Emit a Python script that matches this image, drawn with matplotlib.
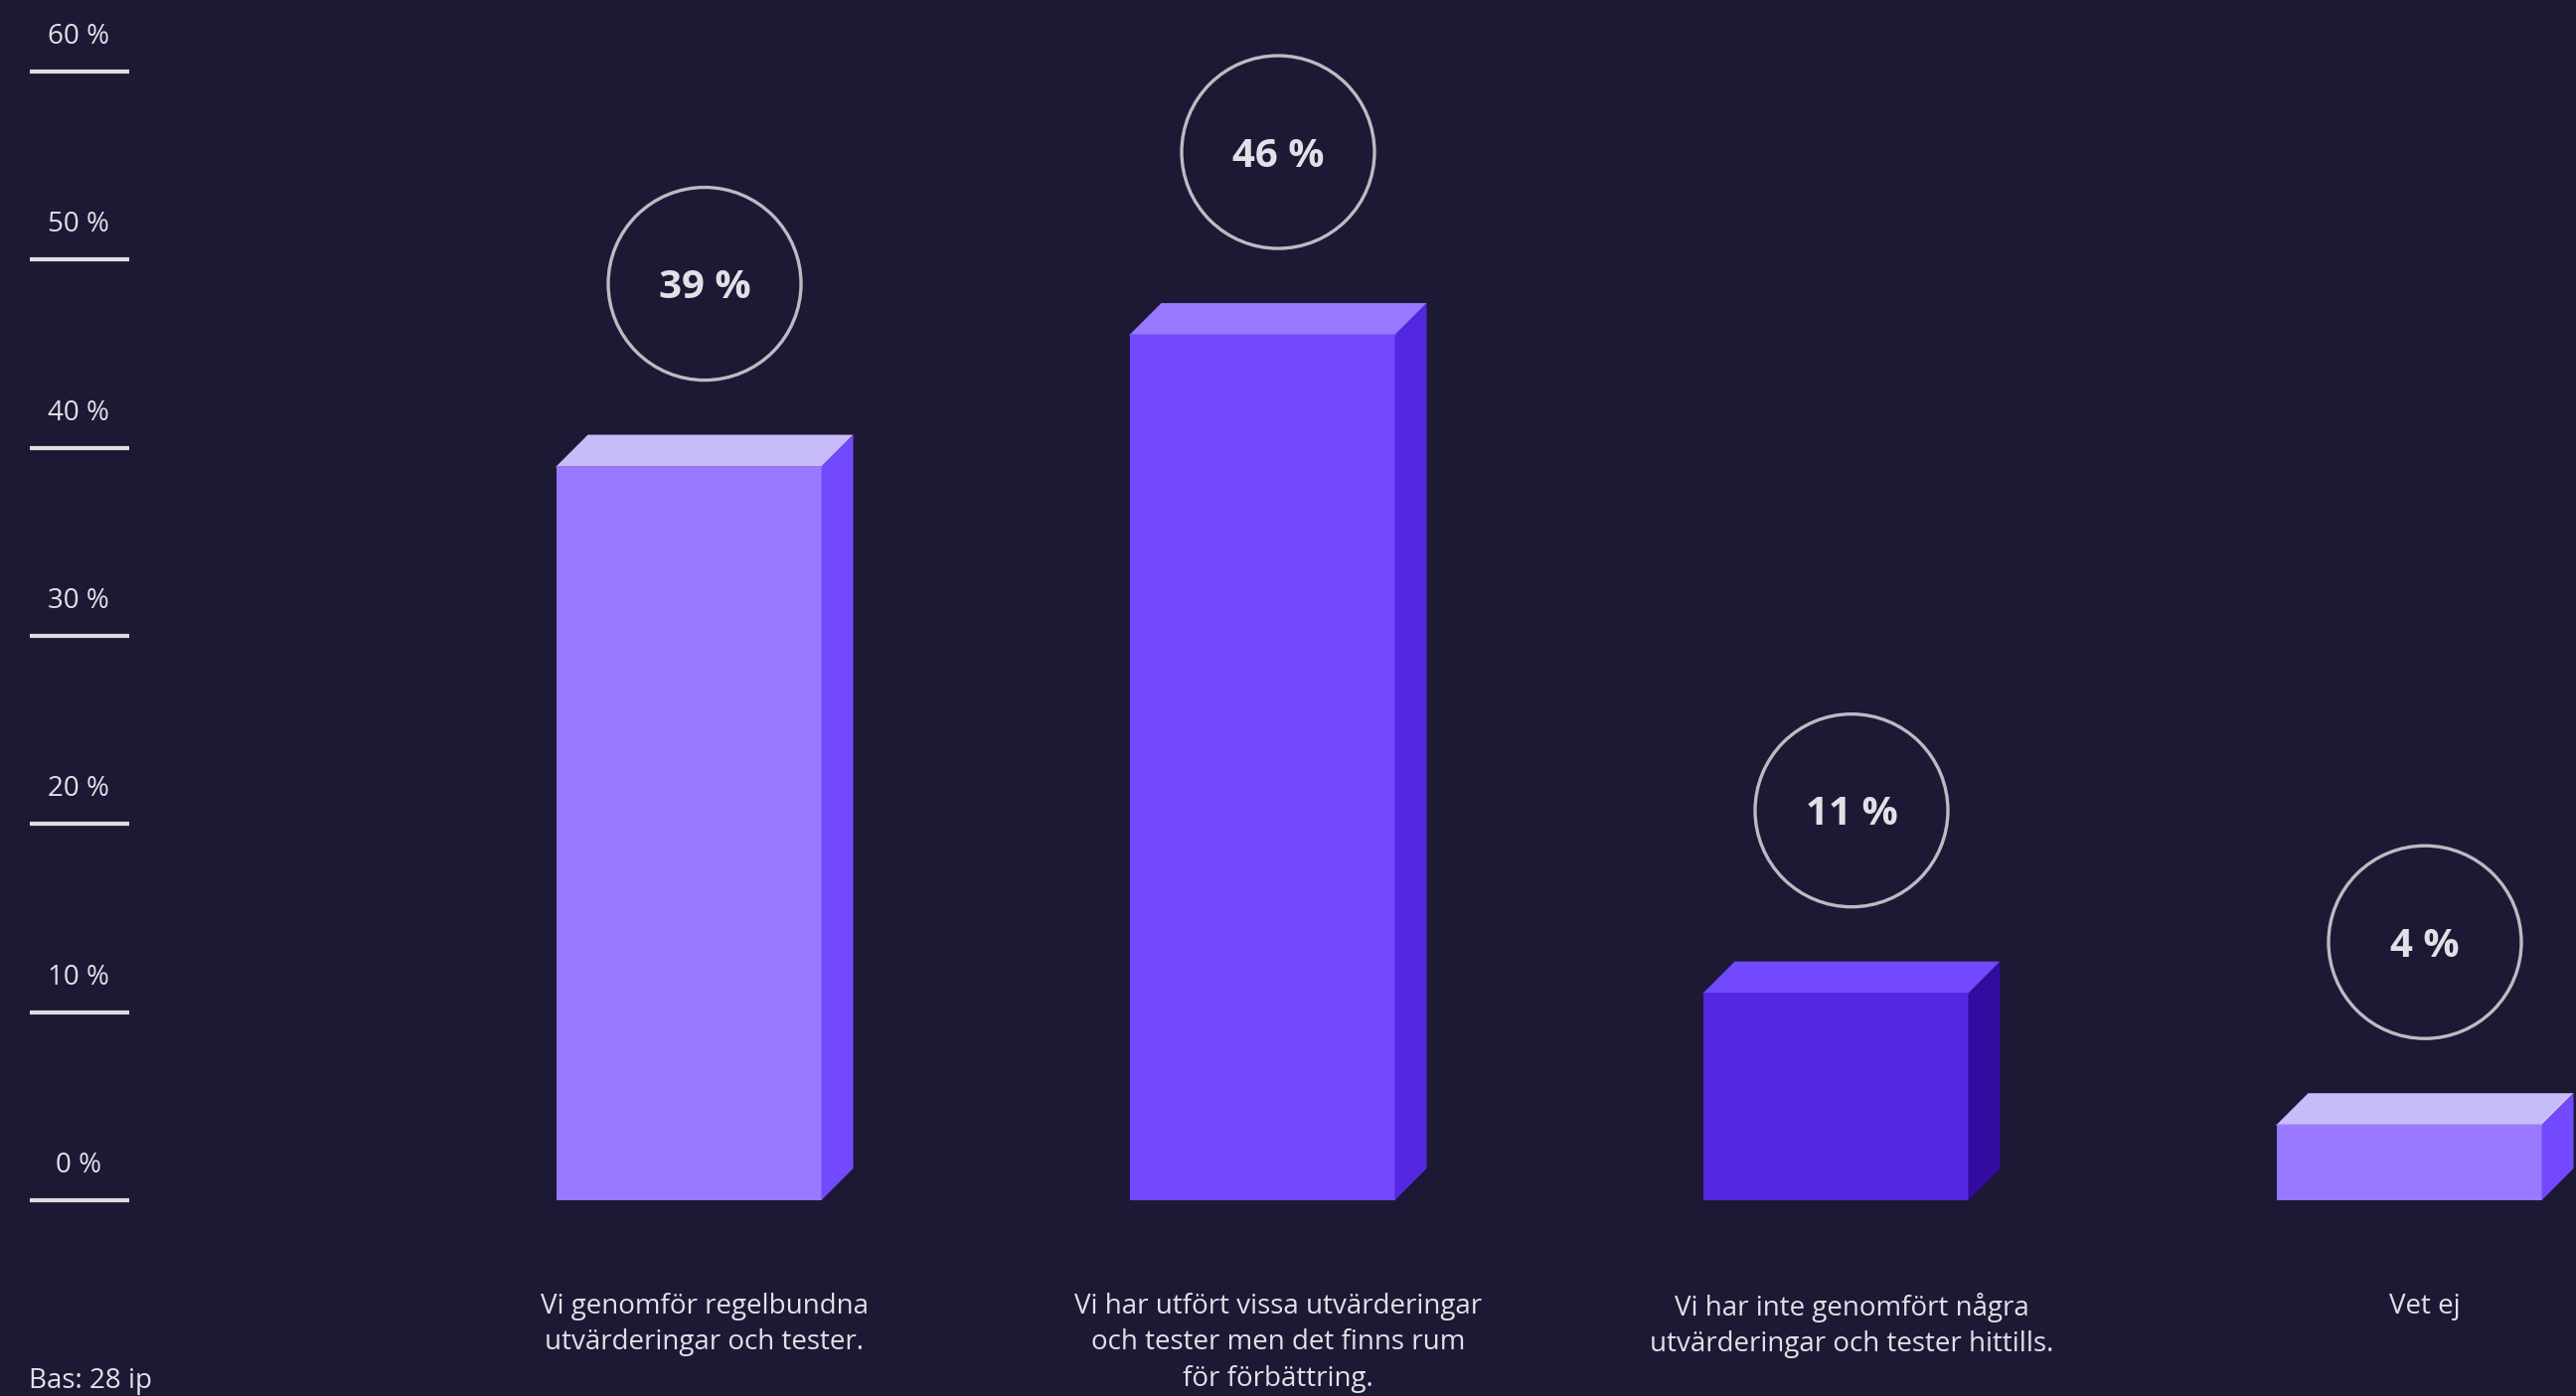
import matplotlib
matplotlib.use("Agg")
import matplotlib.pyplot as plt
from matplotlib.patches import Polygon, Ellipse

# Survey answers (percent of respondents)
categories = [
    "Vi genomför regelbundna\nutvärderingar och tester.",
    "Vi har utfört vissa utvärderingar\noch tester men det finns rum\nför förbättring.",
    "Vi har inte genomfört några\nutvärderingar och tester hittills.",
    "Vet ej",
]
values = [39, 46, 11, 4]
value_labels = ["39 %", "46 %", "11 %", "4 %"]
y_ticks = [0, 10, 20, 30, 40, 50, 60]
y_tick_labels = ["0 %", "10 %", "20 %", "30 %", "40 %", "50 %", "60 %"]
base_note = "Bas: 28 ip"

# (front, top, side) shades per bar
bar_shades = [
    ("#9879ff", "#c7bcf8", "#7349ff"),
    ("#7349ff", "#9879ff", "#5428e0"),
    ("#5427e0", "#7349ff", "#320ca0"),
    ("#9879ff", "#c7bcf8", "#7349ff"),
]

BG = "#1d1935"
TXT = "#e2e0e6"
plt.rcParams["font.family"] = ["Open Sans", "DejaVu Sans"]

W, H = 2592, 1405
fig = plt.figure(figsize=(W / 100, H / 100), dpi=100, facecolor=BG)
ax = fig.add_axes([0, 0, 1, 1])
ax.set_facecolor(BG)
ax.axis("off")

# pixel geometry of the value axis
px_per_unit = 18.93
zero_px = 1208
ax.set_ylim(-(H - zero_px) / px_per_unit, 60 + 72 / px_per_unit)
slot_px = 577
first_px = 693
ax.set_xlim(-first_px / slot_px, (W - first_px) / slot_px)

bar_w = 267 / slot_px
dx = 32 / slot_px
dy = 32 / px_per_unit

for i, (v, (front, top, side)) in enumerate(zip(values, bar_shades)):
    x0, x1 = i - bar_w / 2, i + bar_w / 2
    ax.add_patch(Polygon([(x0, 0), (x1, 0), (x1, v), (x0, v)], closed=True,
                         facecolor=front, edgecolor="none"))
    ax.add_patch(Polygon([(x0, v), (x1, v), (x1 + dx, v + dy), (x0 + dx, v + dy)],
                         closed=True, facecolor=top, edgecolor="none"))
    ax.add_patch(Polygon([(x1, 0), (x1 + dx, dy), (x1 + dx, v + dy), (x1, v)],
                         closed=True, facecolor=side, edgecolor="none"))
    ax.plot([x0, x1], [v, v], color=front, lw=1.2, alpha=0.6)

    # value bubble
    r_px = 97
    cx = i + dx / 2
    cy = v + 184 / px_per_unit
    ax.add_patch(Ellipse((cx, cy), 2 * r_px / slot_px, 2 * r_px / px_per_unit,
                         facecolor="none", edgecolor="#bdbbc2", lw=2.4))
    ax.text(cx, cy - 4 / px_per_unit, value_labels[i], ha="center", va="center",
            color=TXT, fontsize=29, fontweight="bold")

    # category label
    ax.text(cx, -(1301 - zero_px) / px_per_unit, categories[i], ha="center",
            va="top", color=TXT, fontsize=20, linespacing=1.4)

# value axis marks
ytr = ax.get_yaxis_transform()
for t, lab in zip(y_ticks, y_tick_labels):
    ax.plot([30 / W, 130 / W], [t, t], transform=ytr, color="#dedde2", lw=3,
            solid_capstyle="butt")
    ax.text(79 / W, t + 35 / px_per_unit, lab, transform=ytr, ha="center",
            va="center", color=TXT, fontsize=20)

fig.text(29 / W, 1 - 1390 / H, base_note, ha="left", va="center", color=TXT,
         fontsize=20)

fig.savefig("out.png", dpi=100, facecolor=BG)
